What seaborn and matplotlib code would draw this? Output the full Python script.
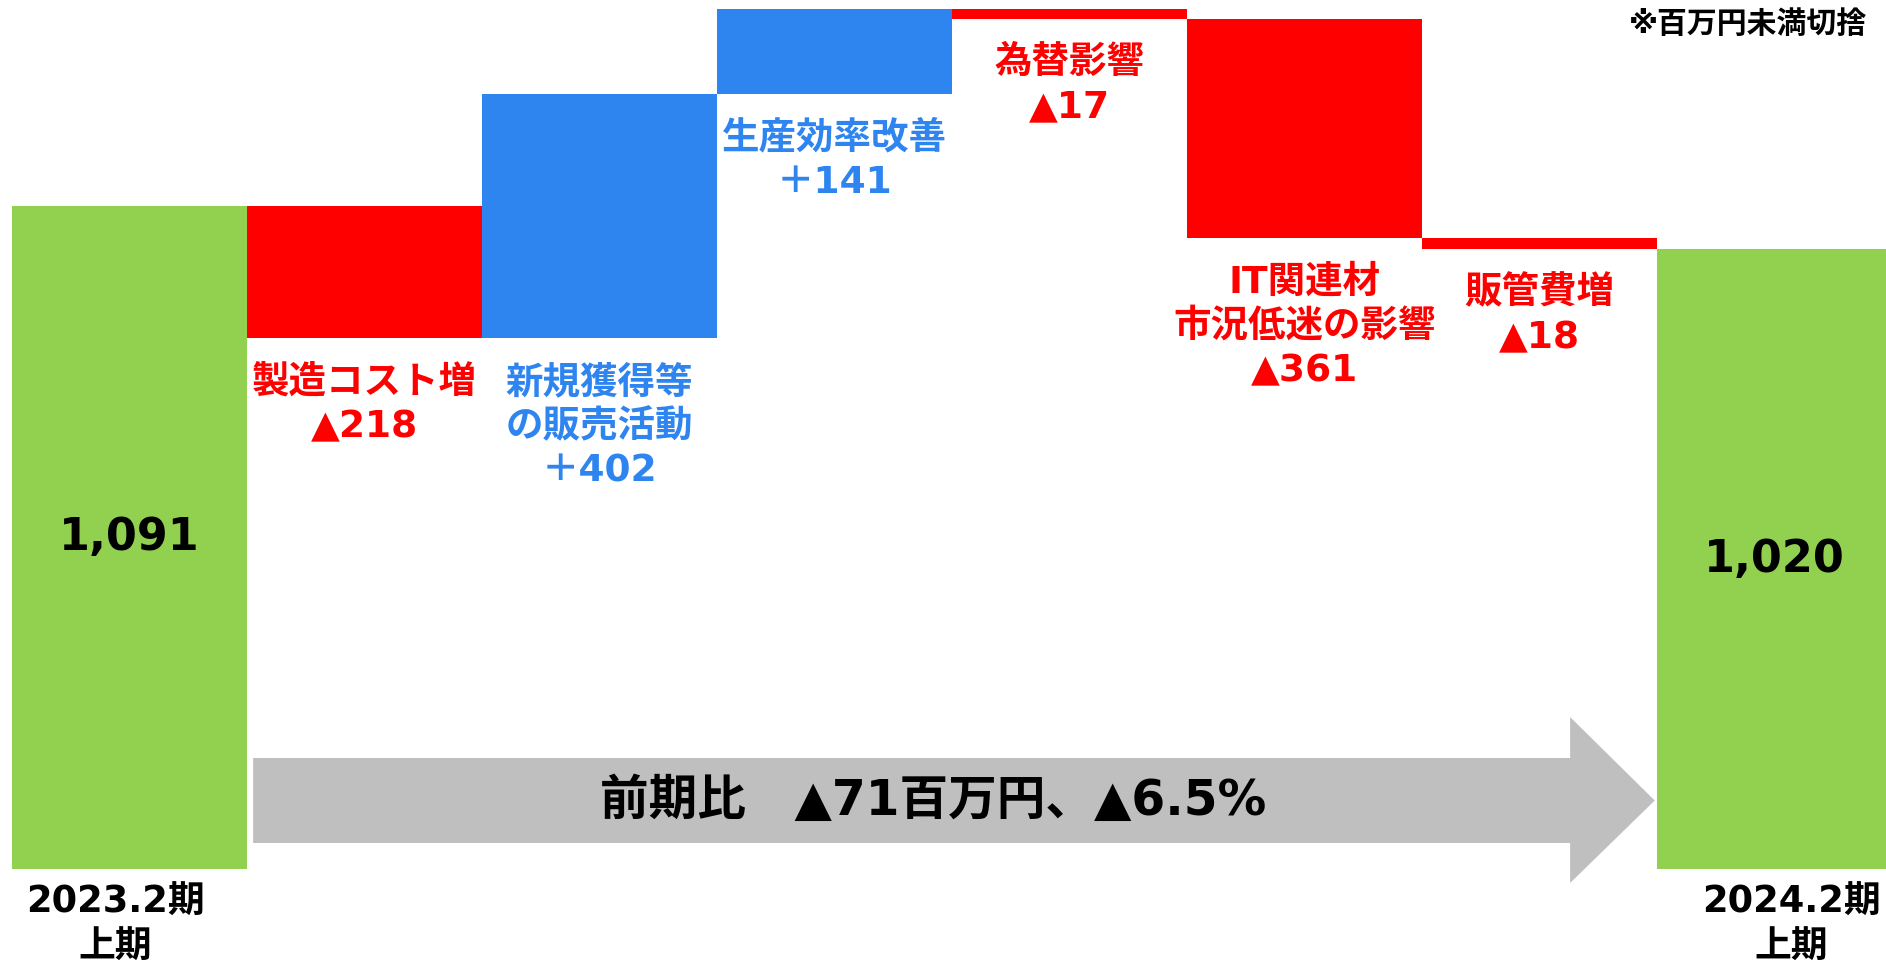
import numpy as np
import pandas as pd
import matplotlib
matplotlib.use("Agg")
import matplotlib.pyplot as plt
from matplotlib.patches import Polygon
import seaborn as sns

# ---- data ----
categories = ["2023.2期上期", "製造コスト増", "新規獲得等の販売活動", "生産効率改善",
              "為替影響", "IT関連材市況低迷の影響", "販管費増", "2024.2期上期"]
values = [1091, -218, 402, 141, -17, -361, -18, 1020]
kinds = ["total", "delta", "delta", "delta", "delta", "delta", "delta", "total"]
change_labels = ["", "製造コスト増\n▲218", "新規獲得等\nの販売活動\n＋402", "生産効率改善\n＋141",
                 "為替影響\n▲17", "IT関連材\n市況低迷の影響\n▲361", "販管費増\n▲18", ""]
total_labels = ["1,091", "", "", "", "", "", "", "1,020"]
period_labels = ["2023.2期\n上期", "", "", "", "", "", "", "2024.2期\n上期"]
summary_text = "前期比　▲71百万円、▲6.5%"
note_text = "※百万円未満切捨"

GREEN = "#92D050"
RED = "#FF0000"
BLUE = "#2F85F0"
GRAY = "#BFBFBF"

# waterfall geometry from values
bottoms, heights, colors = [], [], []
cum = 0
for v, k in zip(values, kinds):
    if k == "total":
        bottoms.append(0); heights.append(v); colors.append(GREEN)
        cum = v
    else:
        new = cum + v
        bottoms.append(min(cum, new)); heights.append(abs(v))
        colors.append(BLUE if v > 0 else RED)
        cum = new

df = pd.DataFrame({"cat": categories, "height": heights})

sns.set_theme(style="white")
plt.rcParams["font.family"] = ["DejaVu Sans", "Noto Sans CJK JP"]
plt.rcParams["font.weight"] = "bold"

fig = plt.figure(figsize=(18.86, 9.64), dpi=100)
ax = fig.add_axes([0, 0, 1, 1])

sns.barplot(data=df, x="cat", y="height", order=categories, width=1.0,
            bottom=np.array(bottoms, dtype=float), linewidth=0, ax=ax,
            errorbar=None, color=GREEN)
for p, c in zip(ax.patches, colors):
    p.set_facecolor(c)
    p.set_edgecolor("none")

ax.set_xlim(-0.551, 7.474)
ax.set_ylim(-156.3, 1430)
ax.axis("off")

# summary arrow
bx0, bx1, tipx = 0.526, 6.13, 6.49
by0, by1, hy0, hy1 = 42.8, 182.7, -23, 250
yc = (by0 + by1) / 2
arrow = Polygon([(bx0, by0), (bx1, by0), (bx1, hy0), (tipx, yc), (bx1, hy1), (bx1, by1), (bx0, by1)],
                closed=True, facecolor=GRAY, edgecolor="none", zorder=1)
ax.add_patch(arrow)
ax.text(3.42, yc, summary_text, ha="center", va="center", fontsize=35,
        fontweight="bold", color="black", zorder=3)

# labels
for i, (lab, b, c) in enumerate(zip(change_labels, bottoms, colors)):
    if lab:
        ax.annotate(lab, xy=(i, b), xytext=(0, -19), textcoords="offset points",
                    ha="center", va="top", fontsize=27, fontweight="bold",
                    color=c, linespacing=1.3)
for i, (lab, v) in enumerate(zip(total_labels, values)):
    if lab:
        ax.text(i, v / 2, lab, ha="center", va="center", fontsize=32,
                fontweight="bold", color="black")
period_x = {0: -0.06, 7: 7.07}
for i, lab in enumerate(period_labels):
    if lab:
        ax.text(period_x[i], -92, lab, ha="center", va="center", fontsize=26.5,
                fontweight="bold", color="black", linespacing=1.25)

fig.text(1867 / 1886, 1 - 25 / 964, note_text, ha="right", va="center",
         fontsize=21.5, fontweight="bold", color="black")

fig.savefig("out.png", dpi=100)
